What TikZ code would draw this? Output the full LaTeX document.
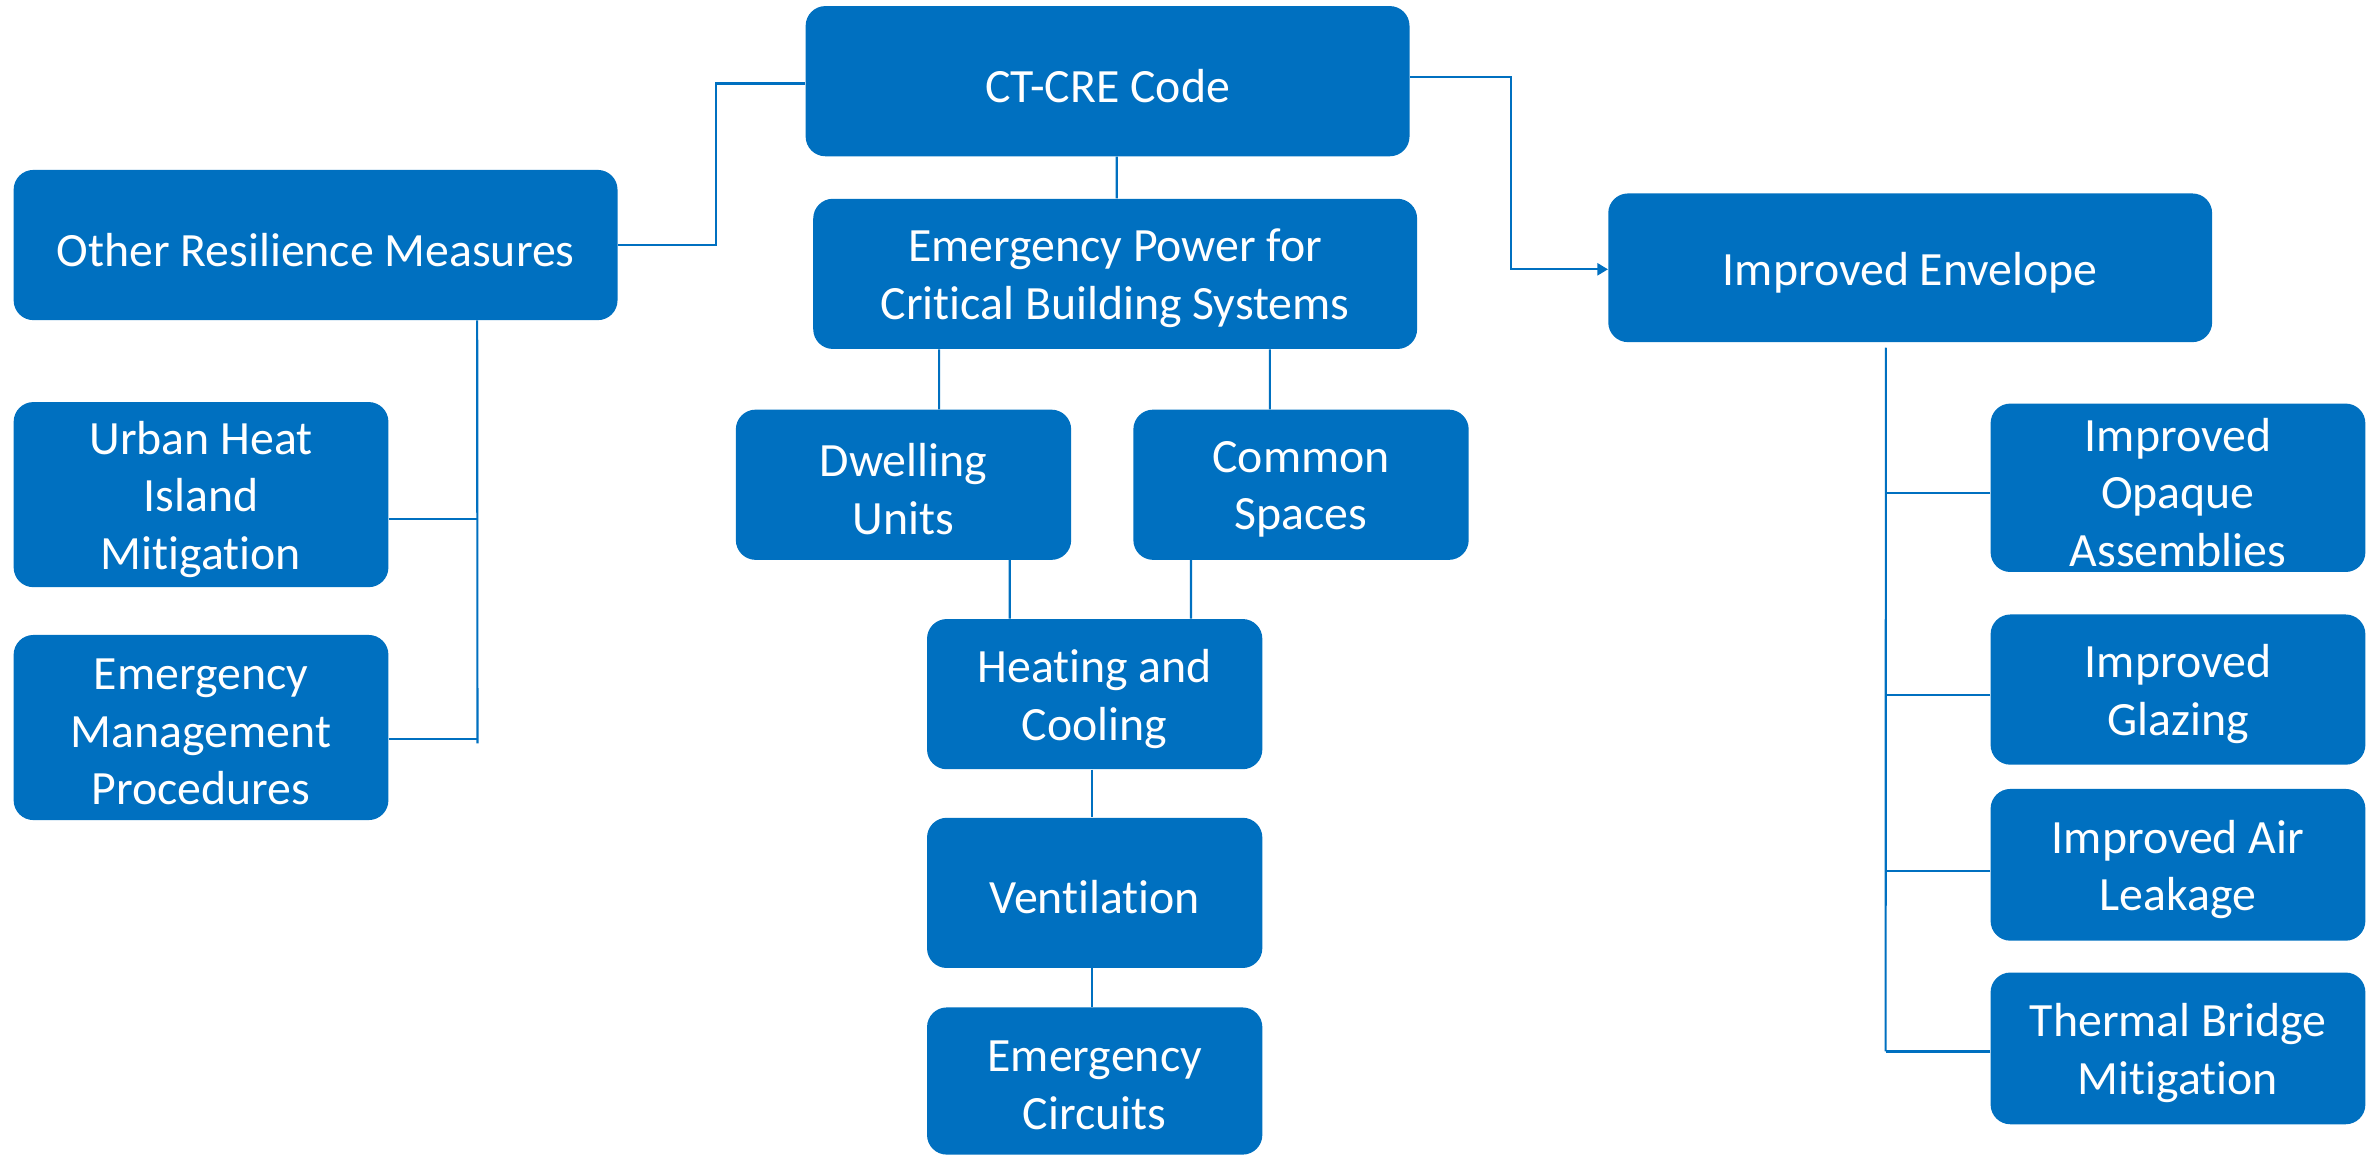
\documentclass[tikz,border=0pt]{standalone}
\usepackage{fontspec}
\setmainfont{Carlito}[Ligatures=NoCommon]
\usetikzlibrary{arrows.meta}
\definecolor{boxblue}{RGB}{0,112,192}
% rounded box (name, centre, width, height) with its white caption
\newcommand\tbox[5]{%
  \node[box={#3}{#4}] (#1) at (#2) {};
  \node[txt] (#1-t) at ([yshift=-3bp]#1.center) {#5};}
\begin{document}
\begin{tikzpicture}[x=1bp,y=-1bp,
  box/.style 2 args={fill=boxblue, draw=none, rounded corners=13bp,
    inner sep=0pt, minimum width=#1bp, minimum height=#2bp},
  txt/.style={text=white, align=center, inner sep=0pt,
    font=\fontsize{31.5bp}{38bp}\selectfont},
  link/.style={draw=boxblue, line width=1.4bp}]
\useasboundingbox (0,0) rectangle (1568,762);

% top level
\tbox{ct}{730,53.5}{398}{99}{CT-CRE Code}
\tbox{orm}{208,161.5}{398}{99}{Other Resilience Measures}
\tbox{ep}{735,180.5}{398}{99}{Emergency Power for\\Critical Building Systems}
\tbox{ie}{1259,176.5}{398}{98}{Improved Envelope}

% left branch
\tbox{uhi}{132.5,326}{247}{122}{Urban Heat\\Island\\Mitigation}
\tbox{emp}{132.5,479.5}{247}{122}{Emergency\\Management\\Procedures}

% centre branch
\tbox{du}{595.5,319.5}{221}{99}{Dwelling\\Units}
\tbox{cs}{857.5,319.5}{221}{99}{Common\\Spaces}
\tbox{hc}{721.5,457.5}{221}{99}{Heating and\\Cooling}
\tbox{vn}{721.5,588.5}{221}{99}{Ventilation}
\tbox{ec}{721.5,712.5}{221}{97}{Emergency\\Circuits}

% right branch
\tbox{ioa}{1435.5,321.5}{247}{111}{Improved\\Opaque\\Assemblies}
\tbox{ig}{1435.5,454.5}{247}{99}{Improved\\Glazing}
\tbox{ial}{1435.5,570}{247}{100}{Improved Air\\Leakage}
\tbox{tbm}{1435.5,691}{247}{100}{Thermal Bridge\\Mitigation}

% connectors from the code box
\draw[link] ([yshift=-1.5bp]ct.west) -- ++(-59,0) |- (orm.east);
\draw[link, -{Triangle[length=7bp,width=8bp]}] ([yshift=2.5bp]ct.east) -- ++(66.6,0) |- ([yshift=-1bp]ie.west);
\draw[link] ([xshift=6bp]ct.south) -- ([xshift=1bp]ep.north);

% centre branch connectors
\draw[link] ([xshift=-116bp]ep.south) -- ([xshift=23.5bp]du.north);
\draw[link] ([xshift=102bp]ep.south) -- ([xshift=-20.5bp]cs.north);
\draw[link] ([xshift=70bp]du.south) -- ([xshift=-56bp]hc.north);
\draw[link] ([xshift=-72.5bp]cs.south) -- ([xshift=63.5bp]hc.north);
\draw[link] ([xshift=-1.5bp]hc.south) -- ([xshift=-1.5bp]vn.north);
\draw[link] ([xshift=-1.5bp]vn.south) -- ([xshift=-1.5bp]ec.north);

% left branch spine
\draw[link] ([xshift=106.5bp]orm.south) -- ([xshift=58.5bp,yshift=-10.5bp]emp.east);
\draw[link] ([yshift=-16bp]uhi.east) -- ++(58.5,0);
\draw[link] ([yshift=-7.5bp]emp.east) -- ++(58.5,0);

% right branch spine
\draw[link] ([xshift=-16bp,yshift=-3.5bp]ie.south) -- ([xshift=-69bp,yshift=-2bp]tbm.west);
\draw[link] ([yshift=-3.5bp]ioa.west) -- ++(-69,0);
\draw[link] ([yshift=-3.5bp]ig.west) -- ++(-69,0);
\draw[link] ([yshift=-4bp]ial.west) -- ++(-69,0);
\draw[link] ([yshift=-2bp]tbm.west) -- ++(-69,0);
\end{tikzpicture}
\end{document}
